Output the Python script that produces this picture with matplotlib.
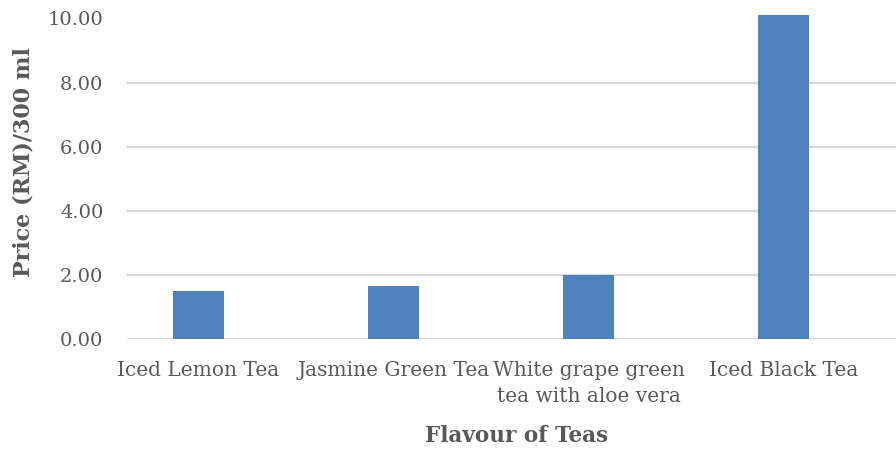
import matplotlib
matplotlib.use("Agg")
import matplotlib.pyplot as plt

categories = ["Iced Lemon Tea", "Jasmine Green Tea", "White grape green\ntea with aloe vera", "Iced Black Tea"]
prices = [1.50, 1.65, 2.00, 10.10]
yticks = [0, 2, 4, 6, 8, 10]
ytick_labels = ["0.00", "2.00", "4.00", "6.00", "8.00", "10.00"]

plt.rcParams['font.family'] = ['DejaVu Serif']
fig = plt.figure(figsize=(8.96, 4.49), dpi=100)
ax = fig.add_axes([127/896, 1-339/449, 1-127/896, (339-18.5)/449])

x = list(range(len(categories)))
bars = ax.bar(x, prices, width=0.26, color="#4F81BD", zorder=3)
for b in bars:
    b.set_clip_on(False)

ax.set_xlim((127-198.5)/195, (896-198.5)/195)
ax.set_ylim(0, 10)
ax.set_yticks(yticks)
ax.set_yticklabels(ytick_labels)
ax.set_xticks(x)
ax.set_xticklabels(categories, linespacing=1.45)
ax.grid(axis="y", color="#D9D9D9", linewidth=1.5, zorder=0)
ax.set_axisbelow(True)
for s in ax.spines.values():
    s.set_visible(False)
ax.tick_params(axis="x", length=0, labelsize=14.5, labelcolor="#595959", pad=16)
ax.tick_params(axis="y", length=0, labelsize=14, labelcolor="#595959", pad=17)
ax.set_ylabel("Price (RM)/300 ml", fontsize=16, fontweight="bold", color="#595959")
ax.set_xlabel("Flavour of Teas", fontsize=15.5, fontweight="bold", color="#595959")
ax.yaxis.set_label_coords(-0.12, 0.552)
ax.xaxis.set_label_coords(0.506, -0.268)

fig.savefig("out.png", dpi=100)
